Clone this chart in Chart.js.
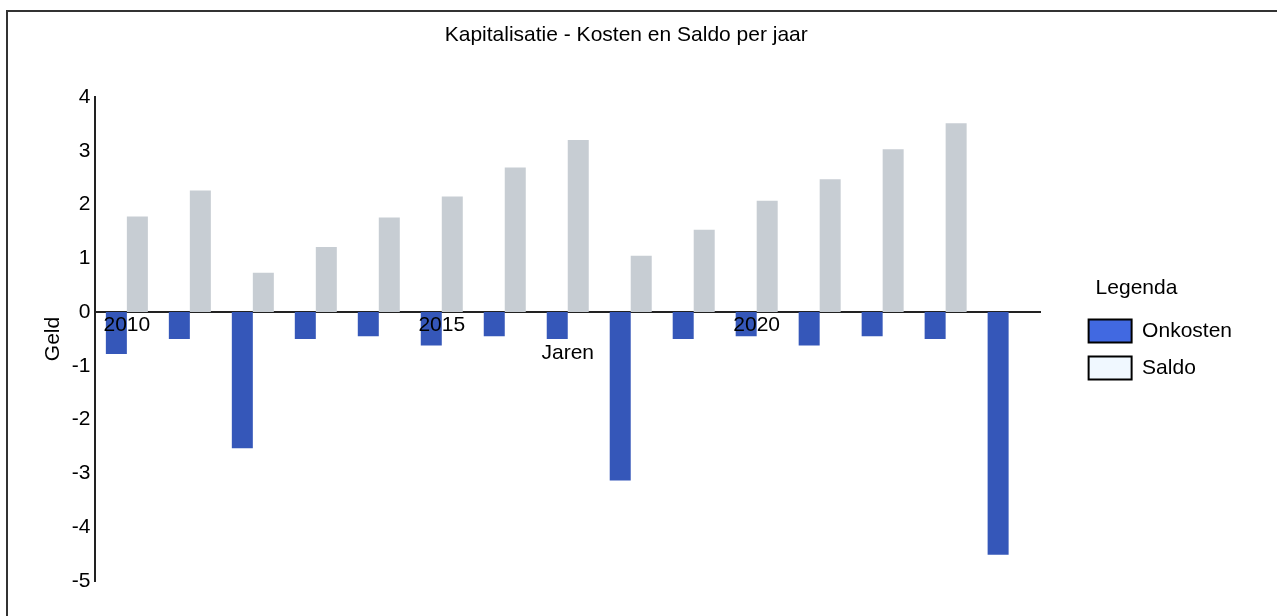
<!DOCTYPE html>
<html>
<head>
<meta charset="utf-8">
<script src="https://cdn.jsdelivr.net/npm/chart.js@4/dist/chart.umd.min.js"></script>
<style>
  html, body { margin: 0; padding: 0; background: #fff; overflow: hidden; }
  #wrap { position: relative; width: 1277px; height: 616px; }
  #frame { position: absolute; left: 6px; top: 10px; width: 1400px; height: 700px;
           border-left: 2px solid #333; border-top: 2px solid #333; }
  canvas { position: absolute; left: 0; top: 0; }
</style>
</head>
<body>
<div id="wrap">
  <div id="frame"></div>
  <canvas id="chart" width="1277" height="616"></canvas>
</div>
<script>
var jaren = ['2010', '2011', '2012', '2013', '2014', '2015', '2016', '2017',
             '2018', '2019', '2020', '2021', '2022', '2023', '2024'];
var onkosten = [-0.78, -0.5, -2.53, -0.5, -0.45, -0.62, -0.45, -0.5,
                -3.13, -0.5, -0.45, -0.62, -0.45, -0.5, -4.51];
var saldo = [1.78, 2.26, 0.73, 1.21, 1.76, 2.15, 2.69, 3.2,
             1.05, 1.53, 2.07, 2.47, 3.03, 3.51, null];
var yTicks = [4, 3, 2, 1, 0, -1, -2, -3, -4, -5];

var font = { family: 'Liberation Sans, Arial, sans-serif', size: 21, weight: 'normal' };
var legendColors = ['#4169E1', '#F0F8FF'];

// title in the reference sits a bit left of the canvas centre
var shiftTitle = {
  id: 'shiftTitle',
  afterLayout: function (chart) {
    var t = chart.titleBlock;
    t.left -= 15;
    t.right -= 15;
  }
};

new Chart(document.getElementById('chart'), {
  type: 'bar',
  data: {
    labels: jaren,
    datasets: [
      { label: 'Onkosten', data: onkosten, backgroundColor: '#3557B9' },
      { label: 'Saldo', data: saldo, backgroundColor: '#C7CDD3' }
    ]
  },
  plugins: [shiftTitle],
  options: {
    responsive: false,
    animation: false,
    categoryPercentage: 0.667,
    barPercentage: 1,
    layout: { padding: { left: 40.5, right: 35, bottom: 35, top: 0 } },
    plugins: {
      title: {
        display: true,
        text: 'Kapitalisatie - Kosten en Saldo per jaar',
        color: '#000',
        font: font,
        padding: { top: 22.5, bottom: 49.3 }
      },
      legend: {
        position: 'right',
        align: 'start',
        title: { display: true, text: '\u2003Legenda', color: '#000', font: font, position: 'start',
                 padding: { top: 277.5, bottom: 2.8 } },
        labels: {
          color: '#000',
          font: font,
          boxWidth: 43,
          boxHeight: 23,
          padding: 14,
          generateLabels: function (chart) {
            return chart.data.datasets.map(function (ds, i) {
              return { text: ds.label, fillStyle: legendColors[i], strokeStyle: '#000',
                       lineWidth: 2, datasetIndex: i, fontColor: '#000' };
            });
          }
        }
      },
      tooltip: { enabled: false }
    },
    scales: {
      x: {
        position: { y: 0 },
        grid: { display: false, drawTicks: false },
        border: { display: true, color: '#222', width: 2 },
        ticks: {
          z: 1,
          color: '#000', font: font, padding: 0, autoSkip: false, maxRotation: 0,
          callback: function (v, i) { return i % 5 === 0 ? jaren[i] : ''; }
        },
        title: { display: true, text: 'Jaren', color: '#000', font: font, padding: { top: 3, bottom: 0 } }
      },
      y: {
        min: -5, max: 4,
        afterBuildTicks: function (s) { s.ticks = yTicks.map(function (v) { return { value: v }; }); },
        grid: { display: false, drawTicks: false },
        border: { display: true, color: '#222', width: 2 },
        ticks: { color: '#000', font: font, padding: 5 },
        title: { display: true, text: 'Geld', color: '#000', font: font, padding: { top: 0, bottom: 1 } }
      },
      spacer: {
        type: 'linear',
        position: 'right',
        grid: { display: false, drawTicks: false },
        border: { display: false },
        ticks: { display: false },
        afterFit: function (s) { s.width = 34.5; }
      }
    }
  }
});
</script>
</body>
</html>
